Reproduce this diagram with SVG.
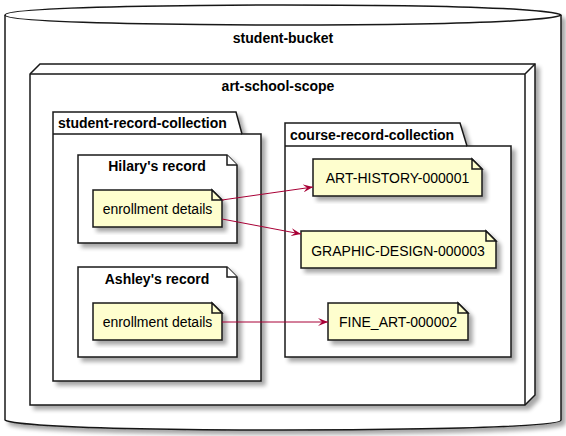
<svg xmlns="http://www.w3.org/2000/svg" width="566" height="436" viewBox="0 0 566 436">
<style>
.shape{fill:#FFFFFF;stroke:#181818;stroke-width:1.5;filter:url(#sh)}
.line{fill:none;stroke:#181818;stroke-width:1.5}
.note{fill:#FEFECE;stroke:#181818;stroke-width:1.5;filter:url(#sh)}
.fold{fill:#FEFECE;stroke:#181818;stroke-width:1.5}
.ffold{fill:#FFFFFF;stroke:#181818;stroke-width:1.5}
.b{font-family:"Liberation Sans",Arial,sans-serif;font-size:14px;font-weight:bold;fill:#000}
.t{font-family:"Liberation Sans",Arial,sans-serif;font-size:14px;fill:#000}
.c{text-anchor:middle}
.arr{fill:none;stroke:#A80036;stroke-width:1}
</style>
<defs>
<filter id="sh" x="-10%" y="-10%" width="130%" height="130%">
<feGaussianBlur in="SourceAlpha" stdDeviation="2"/>
<feOffset dx="4" dy="4" result="o"/>
<feComponentTransfer><feFuncA type="linear" slope="0.35"/></feComponentTransfer>
<feMerge><feMergeNode/><feMergeNode in="SourceGraphic"/></feMerge>
</filter>
<marker id="ah" markerUnits="userSpaceOnUse" markerWidth="10" markerHeight="8" viewBox="0 0 10 8" refX="10" refY="4" orient="auto">
<path d="M0,0 L10,4 L0,8 L4,4 Z" fill="#A80036"/>
</marker>
</defs>
<g id="student-bucket">
<path class="shape" d="M5,15 C5,5 283,5 283,5 C561,5 561,15 561,15 L561,420 C561,430 283,430 283,430 C5,430 5,420 5,420 Z"/>
<path class="line" d="M5,15 C5,25 283,25 283,25 C561,25 561,15 561,15"/>
<text class="b c" x="283" y="43">student-bucket</text>
</g>
<g id="art-school-scope">
<polygon class="shape" points="30,74 40,64 535,64 535,395 525,405 30,405"/>
<path class="line" d="M525,74 L535,64 M30,74 L525,74 M525,74 L525,405"/>
<text class="b c" x="278" y="91">art-school-scope</text>
</g>
<g id="student-record-collection">
<polygon class="shape" points="53,112 236,112 242,134 261,134 261,381 53,381"/>
<path class="line" d="M53,134 L242,134"/>
<text class="b" x="58" y="128">student-record-collection</text>
</g>
<g id="course-record-collection">
<polygon class="shape" points="285,123 460,123 467,146 511,146 511,357 285,357"/>
<path class="line" d="M285,146 L467,146"/>
<text class="b" x="290" y="140">course-record-collection</text>
</g>
<g id="hilarys-record">
<polygon class="shape" points="78,155 227,155 237,165 237,243 78,243"/>
<path class="ffold" d="M227,155 L227,165 L237,165"/>
<text class="b c" x="157" y="171">Hilary's record</text>
</g>
<g id="hilary-enrollment">
<polygon class="note" points="93,190 212,190 222,200 222,227 93,227"/>
<path class="fold" d="M212,190 L212,200 L222,200 Z"/>
<text class="t c" x="157.5" y="214">enrollment details</text>
</g>
<g id="ashleys-record">
<polygon class="shape" points="78,267 227,267 237,277 237,357 78,357"/>
<path class="ffold" d="M227,267 L227,277 L237,277"/>
<text class="b c" x="157" y="284">Ashley's record</text>
</g>
<g id="ashley-enrollment">
<polygon class="note" points="93,303 212,303 222,313 222,340 93,340"/>
<path class="fold" d="M212,303 L212,313 L222,313 Z"/>
<text class="t c" x="157.5" y="327">enrollment details</text>
</g>
<g id="art-history">
<polygon class="note" points="313,159 472,159 482,169 482,196 313,196"/>
<path class="fold" d="M472,159 L472,169 L482,169 Z"/>
<text class="t c" x="397.5" y="183">ART-HISTORY-000001</text>
</g>
<g id="graphic-design">
<polygon class="note" points="301,231 486,231 496,241 496,268 301,268"/>
<path class="fold" d="M486,231 L486,241 L496,241 Z"/>
<text class="t c" x="398" y="256">GRAPHIC-DESIGN-000003</text>
</g>
<g id="fine-art">
<polygon class="note" points="328,303 458,303 468,313 468,340 328,340"/>
<path class="fold" d="M458,303 L458,313 L468,313 Z"/>
<text class="t c" x="398" y="327">FINE_ART-000002</text>
</g>
<g id="connectors">
<path class="arr" d="M222,200 L313,187" marker-end="url(#ah)"/>
<path class="arr" d="M222,219 L301,234" marker-end="url(#ah)"/>
<path class="arr" d="M222,322 L328,322" marker-end="url(#ah)"/>
</g>
</svg>
